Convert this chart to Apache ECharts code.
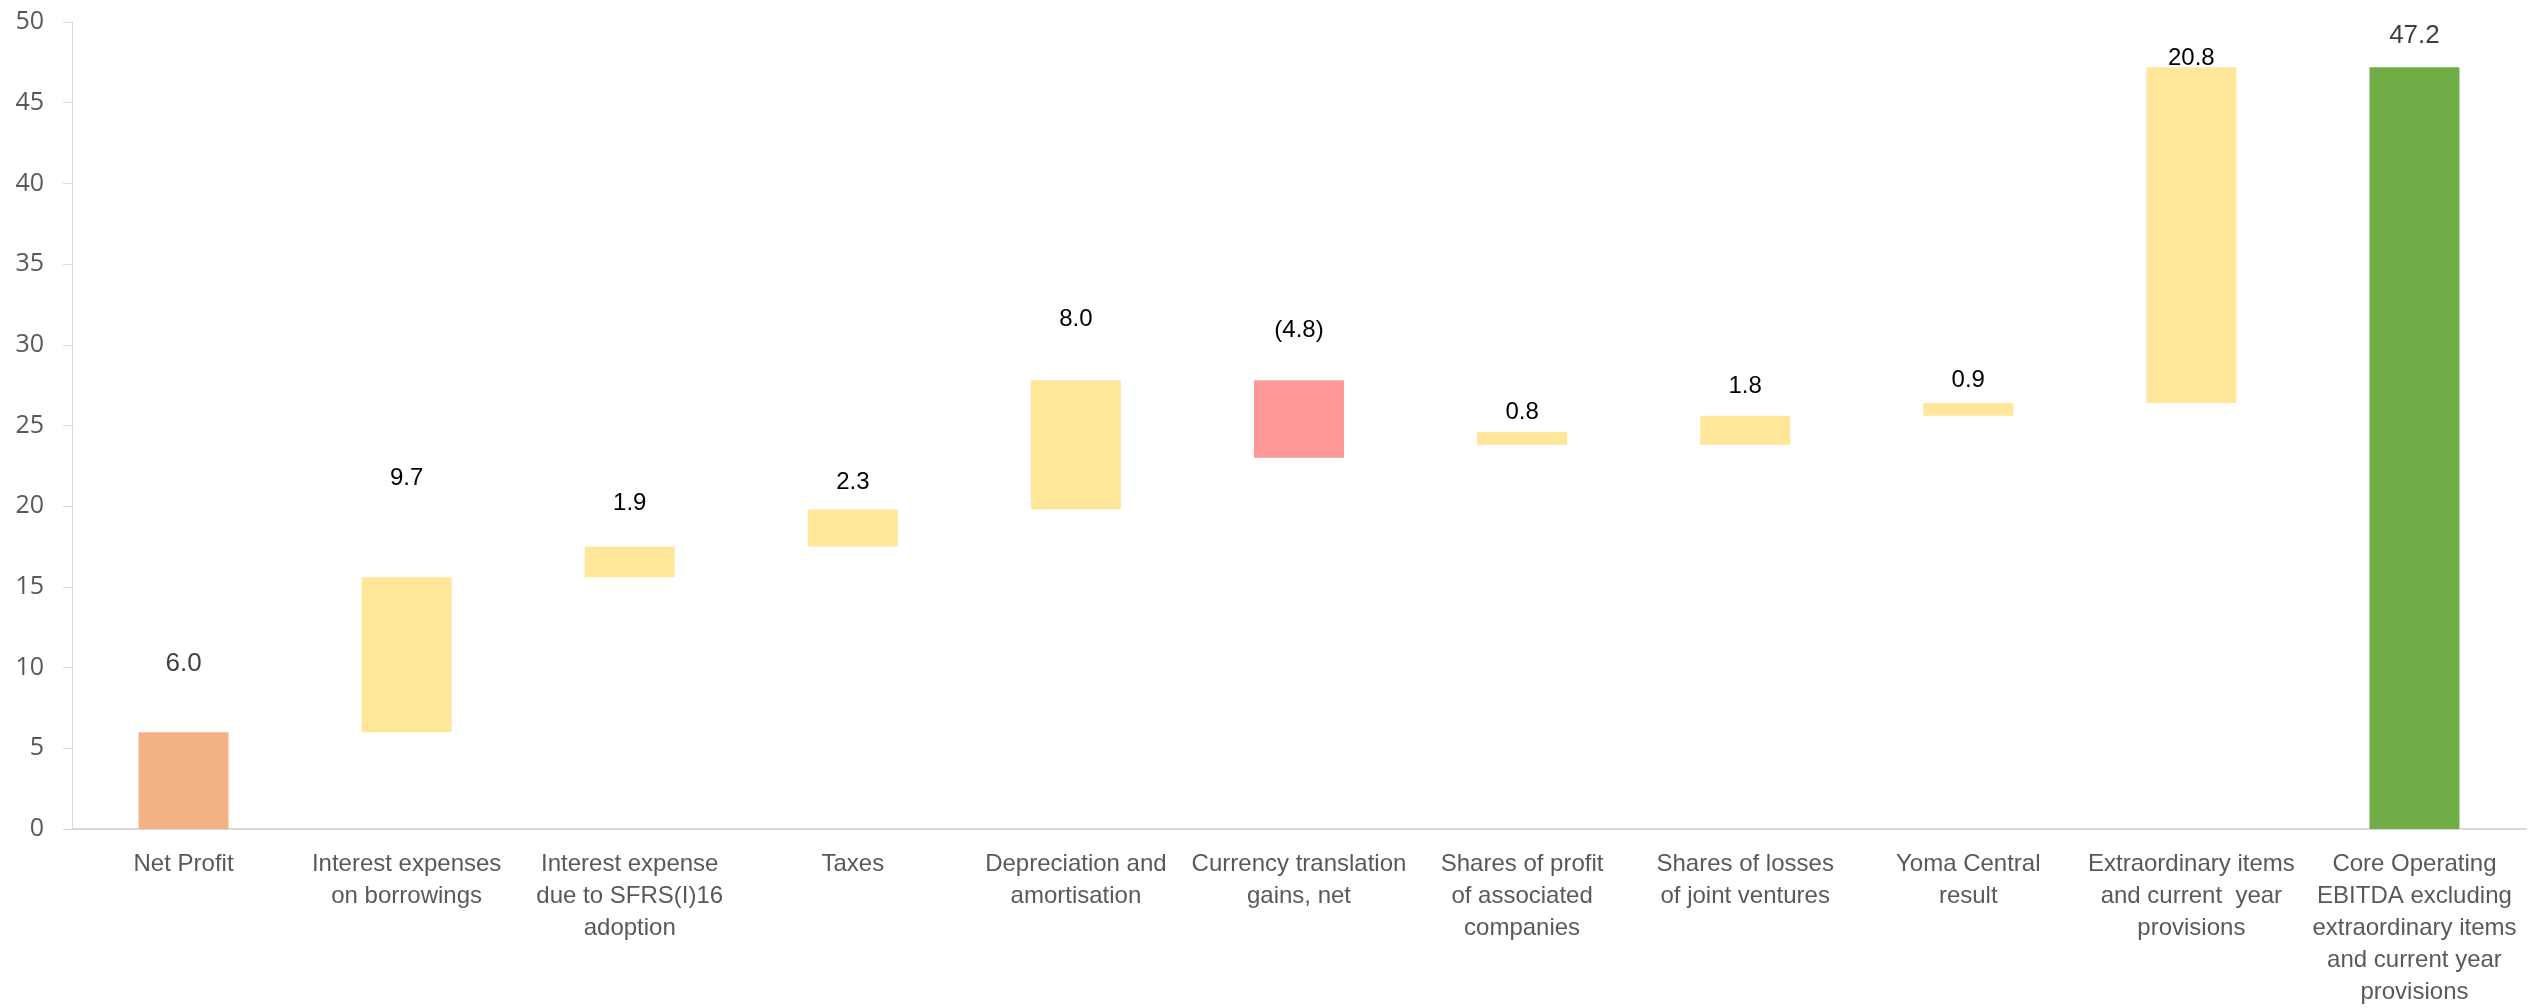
<!DOCTYPE html>
<html>
<head>
<meta charset="utf-8">
<script src="https://cdn.jsdelivr.net/npm/echarts@6/dist/echarts.min.js"></script>
<style>
html,body{margin:0;padding:0;background:#fff;}
#chart{width:2530px;height:1008px;}
</style>
</head>
<body>
<div id="chart"></div>
<script>
// Data
const categories = [
  "Net Profit",
  "Interest expenses\non borrowings",
  "Interest expense\ndue to SFRS(I)16\nadoption",
  "Taxes",
  "Depreciation and\namortisation",
  "Currency translation\ngains, net",
  "Shares of profit\nof associated\ncompanies",
  "Shares of losses\nof joint ventures",
  "Yoma Central\nresult",
  "Extraordinary items\nand current  year\nprovisions",
  "Core Operating\nEBITDA excluding\nextraordinary items\nand current year\nprovisions"
];
const barLow  = [0, 6.0, 15.6, 17.5, 19.8, 23.0, 23.8, 23.8, 25.6, 26.4, 0];
const barHigh = [6.0, 15.6, 17.5, 19.8, 27.8, 27.8, 24.6, 25.6, 26.4, 47.2, 47.2];
const valueLabels = ["6.0", "9.7", "1.9", "2.3", "8.0", "(4.8)", "0.8", "1.8", "0.9", "20.8", "47.2"];
const yTicks = [0, 5, 10, 15, 20, 25, 30, 35, 40, 45, 50];

// Styling (not data)
const barColors = ["#F4B183", "#FFE699", "#FFE699", "#FFE699", "#FFE699", "#FF9999",
                   "#FFE699", "#FFE699", "#FFE699", "#FFE699", "#70AD47"];
const labelDistance = [55, 87, 31, 15, 49, 38, 8, 17, 11, -3, 18];
const labelColor = ["#404040", "#000", "#000", "#000", "#000", "#000", "#000", "#000", "#000", "#000", "#404040"];
const labelSize = [26, 24, 24, 24, 24, 24, 24, 24, 24, 24, 26];

const font = "'Liberation Sans Narrow', 'Arial Narrow', 'Liberation Sans', sans-serif";

const chart = echarts.init(document.getElementById('chart'));
chart.setOption({
  backgroundColor: '#ffffff',
  animation: false,
  grid: { left: 72, right: 4, top: 22, bottom: 179, containLabel: false },
  xAxis: {
    type: 'category',
    data: categories,
    axisLine: { lineStyle: { color: '#D9D9D9', width: 2 } },
    axisTick: { show: false },
    axisLabel: {
      interval: 0, color: '#595959', fontSize: 24, lineHeight: 32,
      fontFamily: font, margin: 19, align: 'center'
    }
  },
  yAxis: {
    type: 'value',
    min: yTicks[0], max: yTicks[yTicks.length - 1], interval: 5,
    splitLine: { show: false },
    axisLine: { show: true, lineStyle: { color: '#D9D9D9', width: 1 } },
    axisTick: { show: true, inside: false, length: 9, lineStyle: { color: '#D9D9D9' } },
    axisLabel: { color: '#595959', fontSize: 25, fontFamily: "'Open Sans', sans-serif", margin: 28 }
  },
  series: [
    {
      type: 'bar', stack: 'w', barWidth: 90, silent: true,
      itemStyle: { color: 'transparent' },
      data: barLow
    },
    {
      type: 'bar', stack: 'w', barWidth: 90,
      data: barHigh.map((h, i) => ({
        value: +(h - barLow[i]).toFixed(2),
        itemStyle: { color: barColors[i] },
        label: {
          show: true, position: 'top', distance: labelDistance[i],
          formatter: valueLabels[i], color: labelColor[i], fontSize: labelSize[i],
          fontFamily: font
        }
      }))
    }
  ]
});
</script>
</body>
</html>
